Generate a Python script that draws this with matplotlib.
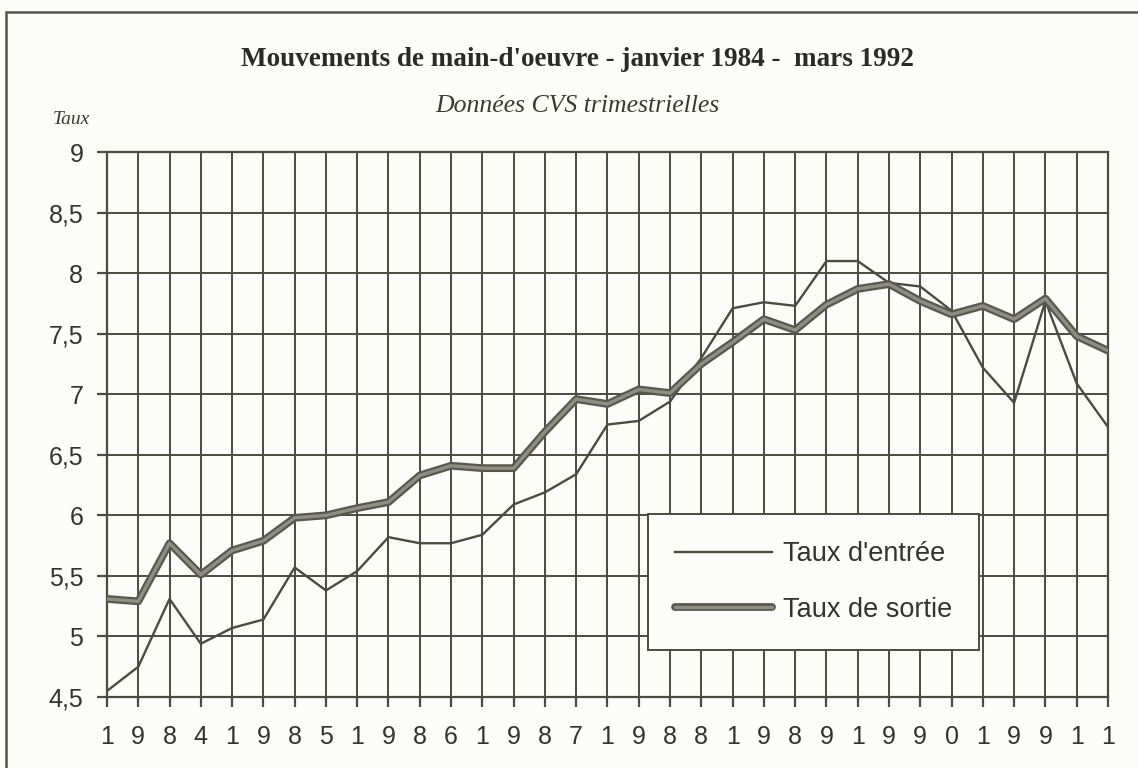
import matplotlib.pyplot as plt
import matplotlib.patheffects as pe
from matplotlib.patches import Rectangle

# quarterly data, 1984 Q1 .. 1992 Q1
quarters = list(range(33))
tick_labels = list("198419851986198719881989199019911")
taux_entree = [4.55, 4.75, 5.31, 4.94, 5.07, 5.14, 5.57, 5.38, 5.54, 5.82,
               5.77, 5.77, 5.84, 6.09, 6.19, 6.34, 6.75, 6.78, 6.94, 7.30,
               7.71, 7.76, 7.73, 8.10, 8.10, 7.92, 7.89, 7.69, 7.22, 6.93,
               7.77, 7.09, 6.73]
taux_sortie = [5.31, 5.29, 5.77, 5.51, 5.71, 5.79, 5.98, 6.00, 6.06, 6.11,
               6.33, 6.41, 6.39, 6.39, 6.69, 6.96, 6.92, 7.04, 7.01, 7.25,
               7.43, 7.62, 7.53, 7.74, 7.87, 7.91, 7.77, 7.66, 7.73, 7.62,
               7.79, 7.48, 7.36]
y_ticks = [4.5, 5, 5.5, 6, 6.5, 7, 7.5, 8, 8.5, 9]
y_labels = ["4,5", "5", "5,5", "6", "6,5", "7", "7,5", "8", "8,5", "9"]

ink = "#4b4b43"
paper = "#fcfcf8"

fig = plt.figure(figsize=(11.38, 7.68), dpi=100, facecolor=paper)
ax = fig.add_axes([0.094, 0.0924, 0.8796, 0.7096], facecolor=paper)

ax.plot(quarters, taux_entree, color=ink, lw=1.7, label="Taux d'entrée", zorder=3)
ax.plot(quarters, taux_sortie, color="#8e8e84", lw=2.4, label="Taux de sortie", zorder=4,
        solid_capstyle="round",
        path_effects=[pe.Stroke(linewidth=5.6, foreground="#58584f"), pe.Normal()])

ax.set_xlim(0, 32)
ax.set_ylim(4.5, 9)
ax.set_xticks(quarters)
ax.set_xticklabels(tick_labels)
ax.set_yticks(y_ticks)
ax.set_yticklabels(y_labels)
ax.grid(True, color=ink, lw=1.4)
ax.set_axisbelow(True)
for s in ax.spines.values():
    s.set_color(ink)
    s.set_linewidth(1.6)
ax.tick_params(axis="both", colors=ink, width=1.6, length=7, labelcolor="#333330",
               labelsize=18)
ax.tick_params(axis="x", pad=13)
ax.tick_params(axis="y", pad=10)
for lab in ax.get_xticklabels() + ax.get_yticklabels():
    lab.set_family("Liberation Sans")

leg = ax.legend(loc="upper left", bbox_to_anchor=(0.540, 0.336),
                fancybox=False, edgecolor=ink, framealpha=1,
                facecolor=paper, handlelength=3.6, handletextpad=0.4,
                labelspacing=1.1, borderpad=1.0, borderaxespad=0,
                prop={"family": "Liberation Sans", "size": 19.5})
leg.get_frame().set_linewidth(1.4)
for t in leg.get_texts():
    t.set_color("#333330")

fig.text(0.507, 0.922, "Mouvements de main-d'oeuvre - janvier 1984 -  mars 1992",
         ha="center", va="center", family="Liberation Serif", weight="bold",
         size=19.5, color="#2a2a26")
fig.text(0.507, 0.862, "Données CVS trimestrielles", ha="center", va="center",
         family="Liberation Serif", style="italic", size=18.5, color="#3a3a35")
fig.text(0.063, 0.844, "Taux", ha="center", va="center",
         family="Liberation Serif", style="italic", size=14, color="#3a3a35")

fig.patches.append(Rectangle((0.005, -0.05), 1.05, 1.035, transform=fig.transFigure,
                             fill=False, edgecolor="#55554d", lw=1.8))

fig.savefig("out.png", dpi=100, facecolor=paper)
